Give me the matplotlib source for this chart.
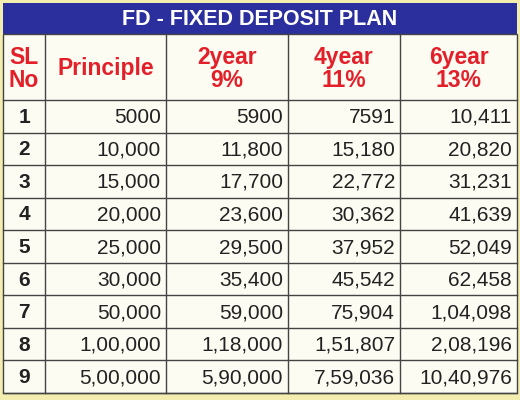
import matplotlib
matplotlib.use("Agg")
import matplotlib.pyplot as plt
from matplotlib.patches import Rectangle

plt.rcParams["font.family"] = ["Liberation Sans", "DejaVu Sans"]

title = "FD - FIXED DEPOSIT PLAN"
headers = ["SL\nNo", "Principle", "2year\n9%", "4year\n11%", "6year\n13%"]
sl_no = ["1", "2", "3", "4", "5", "6", "7", "8", "9"]
principle = ["5000", "10,000", "15,000", "20,000", "25,000", "30,000", "50,000", "1,00,000", "5,00,000"]
year2 = ["5900", "11,800", "17,700", "23,600", "29,500", "35,400", "59,000", "1,18,000", "5,90,000"]
year4 = ["7591", "15,180", "22,772", "30,362", "37,952", "45,542", "75,904", "1,51,807", "7,59,036"]
year6 = ["10,411", "20,820", "31,231", "41,639", "52,049", "62,458", "1,04,098", "2,08,196", "10,40,976"]

col_x = [3, 45, 166, 288, 400, 517]
title_top, head_top, body_top, bottom = 3, 34, 100, 393
line_c = "#444444"

fig = plt.figure(figsize=(5.2, 4.0), dpi=100)
fig.patch.set_facecolor("#f3eeb0")
ax = fig.add_axes([0, 0, 1, 1])
ax.set_xlim(0, 520)
ax.set_ylim(400, 0)
ax.axis("off")

ax.add_patch(Rectangle((col_x[0], title_top), col_x[-1] - col_x[0], head_top - title_top,
                       facecolor="#2b2f9e", edgecolor="none"))
ax.text(260, (title_top + head_top) / 2 + 1, title, color="white", fontsize=15.5,
        fontweight="bold", ha="center", va="center")
ax.add_patch(Rectangle((col_x[0], head_top), col_x[-1] - col_x[0], bottom - head_top,
                       facecolor="#fdfcf3", edgecolor=line_c, lw=1))

n = len(sl_no)
row_h = (bottom - body_top) / n
for x in col_x[1:-1]:
    ax.plot([x, x], [head_top, bottom], color=line_c, lw=1)
for i in range(n + 1):
    y = body_top + i * row_h
    ax.plot([col_x[0], col_x[-1]], [y, y], color=line_c, lw=1)

for j, h in enumerate(headers):
    cx = (col_x[j] + col_x[j + 1]) / 2
    ax.text(cx, (head_top + body_top) / 2 + 2, h, color="#e3202a", fontsize=16.5,
            fontweight="bold", ha="center", va="center", linespacing=1.0)

cols = [principle, year2, year4, year6]
for i in range(n):
    cy = body_top + (i + 0.5) * row_h + 1
    ax.text((col_x[0] + col_x[1]) / 2, cy, sl_no[i], fontsize=15, fontweight="bold",
            color="#222222", ha="center", va="center")
    for j, col in enumerate(cols):
        ax.text(col_x[j + 2] - 5, cy, col[i], fontsize=15, color="#222222",
                ha="right", va="center")

fig.savefig("out.png", dpi=100, facecolor=fig.get_facecolor())
